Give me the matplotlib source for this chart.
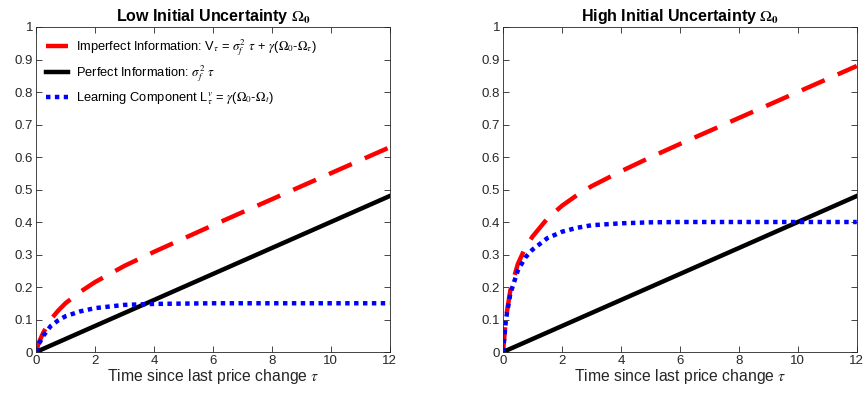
import matplotlib.pyplot as plt

plt.rcParams['font.family'] = ['Liberation Sans', 'DejaVu Sans']
plt.rcParams['mathtext.fontset'] = 'stix'

# values
tau_lin = [0, 12]
perfect = [0, 0.48]

tau_low = [0, 0.1, 0.25, 0.5, 0.75, 1, 1.5, 2, 2.5, 3, 4, 5, 6, 8, 10, 12]
learn_low = [0, 0.025, 0.05, 0.08, 0.097, 0.11, 0.125, 0.135, 0.14, 0.145,
             0.148, 0.149, 0.15, 0.15, 0.15, 0.15]
imperf_low = [0, 0.03, 0.06, 0.10, 0.127, 0.15, 0.185, 0.215, 0.24, 0.265,
              0.308, 0.349, 0.39, 0.47, 0.55, 0.63]

tau_high = [0, 0.1, 0.25, 0.5, 0.75, 1, 1.5, 2, 2.5, 3, 4, 5, 6, 8, 10, 12]
learn_high = [0, 0.10, 0.18, 0.25, 0.29, 0.315, 0.35, 0.37, 0.382, 0.39,
              0.396, 0.399, 0.40, 0.40, 0.40, 0.40]
imperf_high = [0, 0.105, 0.19, 0.27, 0.32, 0.355, 0.41, 0.45, 0.482, 0.51,
               0.556, 0.599, 0.64, 0.72, 0.80, 0.88]

titles = [r'Low Initial Uncertainty $\Omega_\mathbf{0}$',
          r'High Initial Uncertainty $\Omega_\mathbf{0}$']
xticks = [0, 2, 4, 6, 8, 10, 12]
yticks = [0, 0.1, 0.2, 0.3, 0.4, 0.5, 0.6, 0.7, 0.8, 0.9, 1]
yticklabels = ['0', '0.1', '0.2', '0.3', '0.4', '0.5', '0.6', '0.7', '0.8', '0.9', '1']

fig = plt.figure(figsize=(8.65, 3.93), dpi=100)
ax1 = fig.add_axes([0.0416, 0.1043, 0.409, 0.827])
ax2 = fig.add_axes([0.5815, 0.1043, 0.409, 0.827])

panels = [(ax1, tau_low, learn_low, imperf_low),
          (ax2, tau_high, learn_high, imperf_high)]

for i, (ax, tau, learn, imperf) in enumerate(panels):
    ax.plot(tau, imperf, color='red', lw=3.2, dashes=(5.6, 3.2),
            label=r'Imperfect Information: V$_\tau$ = $\sigma_f^2$ $\tau$ + $\gamma$($\Omega_0$-$\Omega_\tau$)')
    ax.plot(tau_lin, perfect, color='black', lw=3.2,
            label=r'Perfect Information: $\sigma_f^2$ $\tau$')
    ax.plot(tau, learn, color='blue', lw=3.2, dashes=(1, 1),
            label=r'Learning Component L$^v_\tau$ = $\gamma$($\Omega_0$-$\Omega_t$)')
    ax.set_xlim(0, 12)
    ax.set_ylim(0, 1)
    ax.set_xticks(xticks)
    ax.set_yticks(yticks)
    ax.set_yticklabels(yticklabels)
    ax.tick_params(direction='in', top=True, right=True, labelsize=9.5,
                   colors='#262626', length=4, width=0.6, pad=2)
    for s in ax.spines.values():
        s.set_linewidth(0.6)
        s.set_color('#262626')
    ax.set_xlabel(r'Time since last price change $\tau$', fontsize=11.3,
                  color='#262626', labelpad=0)
    ax.set_title(titles[i], fontsize=11.5, fontweight='bold', pad=4)

ax1.legend(loc='upper left', frameon=False, fontsize=9.3, handlelength=1.7,
           borderaxespad=0.3, borderpad=0.5, labelspacing=0.45,
           handletextpad=0.6)

fig.savefig('out.png', dpi=100)
